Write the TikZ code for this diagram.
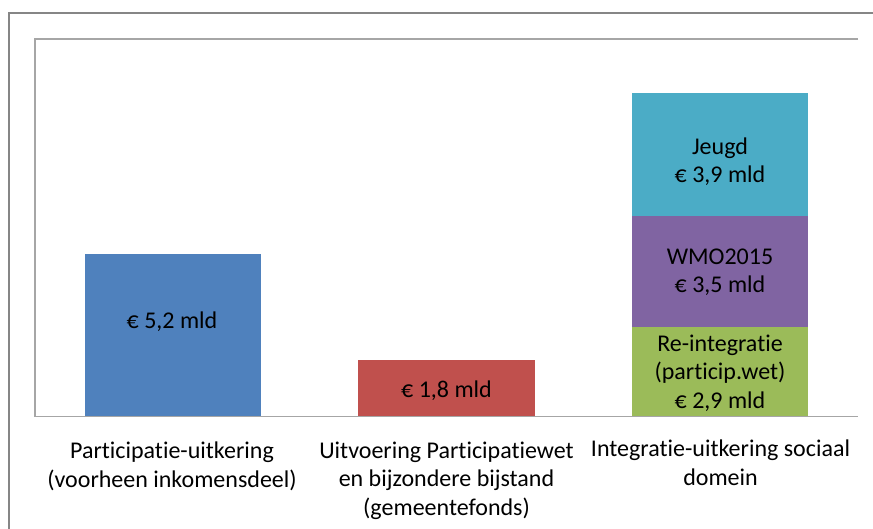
\documentclass[tikz,border=0pt]{standalone}
\usepackage{fontspec}
\setmainfont{Carlito}[Ligatures=CommonOff]
\definecolor{cblue}{HTML}{4F81BD}
\definecolor{cred}{HTML}{C0504D}
\definecolor{cgreen}{HTML}{9BBB59}
\definecolor{cpurple}{HTML}{8064A2}
\definecolor{ccyan}{HTML}{4BACC6}
\definecolor{frameg}{HTML}{868686}
\definecolor{axisg}{HTML}{A6A6A6}
\tikzset{
  bar/.style={draw=none, inner sep=0pt, outer sep=0pt, anchor=north west},
  lbl/.style={inner sep=0pt, anchor=base, align=center, text=black,
    font=\fontsize{24}{28.5}\selectfont},
}
\begin{document}
\begin{tikzpicture}[x=1pt,y=-1pt]
\useasboundingbox (0,0) rectangle (873,529);
\fill[white] (0,0) rectangle (873,529);
% outer chart frame
\coordinate (fa) at (9,529);
\coordinate (fb) at (9,13);
\coordinate (fc) at (873,13);
\draw[frameg, line width=2.5pt] (fa) -- (fb) -- (fc);
% bars
\node[bar, fill=cblue, minimum width=176pt, minimum height=162pt] (b1) at (85,254) {};
\node[bar, fill=cred, minimum width=177pt, minimum height=56pt] (b2) at (358,360) {};
\node[bar, fill=cgreen, minimum width=176pt, minimum height=89pt] (b3a) at (632,327) {};
\node[bar, fill=cpurple, minimum width=176pt, minimum height=111pt] (b3b) at (632,216) {};
\node[bar, fill=ccyan, minimum width=176pt, minimum height=123pt] (b3c) at (632,93) {};
% plot area lines
\coordinate (pa) at (858,39);
\coordinate (pb) at (35,39);
\coordinate (pc) at (35,416.5);
\coordinate (pd) at (858,416.5);
\draw[axisg, line width=1.3pt] (pa) -- (pb) -- (pc) -- (pd);
% bar labels (anchor = baseline of last line)
\node[lbl] (l1) at (172,329) {€ 5,2 mld};
\node[lbl] (l2) at (446.5,397) {€ 1,8 mld};
\node[lbl] (l3a) at (720,408) {Re-integratie\\(particip.wet)\\€ 2,9 mld};
\node[lbl] (l3b) at (720,293) {WMO2015\\€ 3,5 mld};
\node[lbl] (l3c) at (720,183) {Jeugd\\€ 3,9 mld};
% category labels
\node[lbl] (c1) at (172,487) {Participatie-uitkering\\(voorheen inkomensdeel)};
\node[lbl] (c2) at (446.5,515) {Uitvoering Participatiewet\\en bijzondere bijstand\\(gemeentefonds)};
\node[lbl] (c3) at (720.5,485) {Integratie-uitkering sociaal\\domein};
\end{tikzpicture}
\end{document}
